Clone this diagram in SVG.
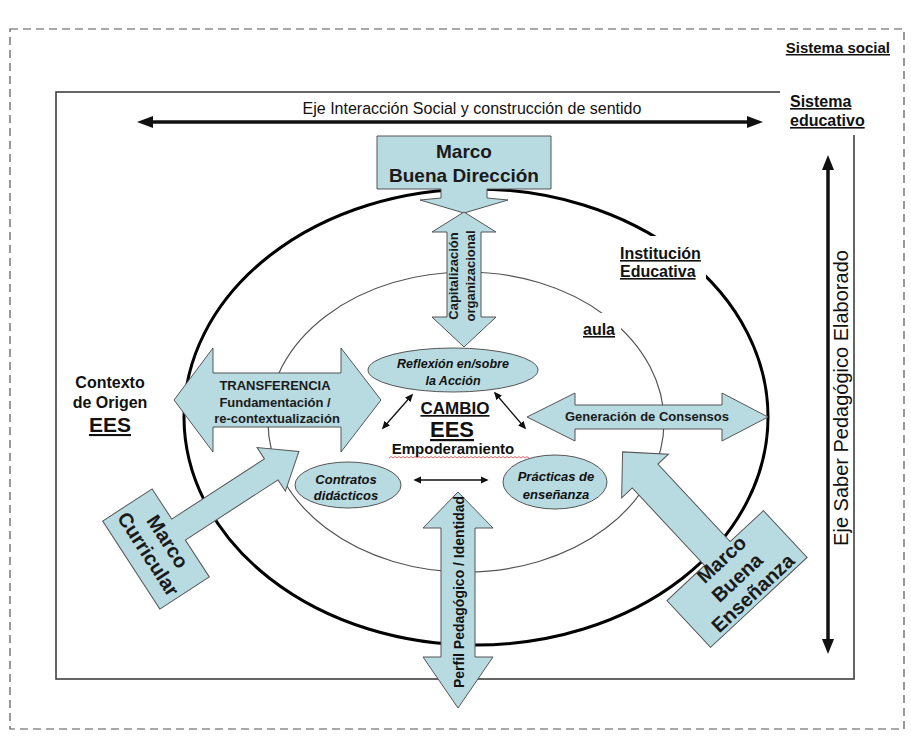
<svg xmlns="http://www.w3.org/2000/svg" width="911" height="747" viewBox="0 0 911 747">
<style>
text{font-family:"Liberation Sans",Arial,sans-serif;fill:#111}
.b{font-weight:bold}
.u{text-decoration:underline}
.c{text-anchor:middle}
.bi{font-weight:bold;font-style:italic}
.shape{fill:#b8dbe1;stroke:#555;stroke-width:1}
.st{font-size:13px;font-weight:bold;fill:#1a1a1a}
.mk{font-weight:bold;text-anchor:middle;fill:#1a1a1a}
</style>
<defs>
<marker id="ah" viewBox="0 0 10 10" refX="8" refY="5" markerWidth="8" markerHeight="8" markerUnits="userSpaceOnUse" orient="auto-start-reverse"><path d="M0,0.5 L10,5 L0,9.5 z" fill="#111"/></marker>
</defs>
<rect width="911" height="747" fill="#fff"/>

<g id="sistema-social">
<rect x="10" y="29" width="894" height="700" fill="none" stroke="#555" stroke-width="1.2" stroke-dasharray="8 5"/>
<text x="890" y="53" class="b u" font-size="15" text-anchor="end">Sistema social</text>
</g>

<g id="sistema-educativo">
<path d="M780,92 H56 V679 H854 V135" fill="none" stroke="#333" stroke-width="1.5"/>
<text x="790" y="107" class="b u" font-size="16">Sistema</text>
<text x="790" y="126" class="b u" font-size="16">educativo</text>
</g>

<g id="institucion-educativa">
<ellipse cx="476" cy="417" rx="292" ry="228" fill="none" stroke="#000" stroke-width="3"/>
<rect x="612" y="236" width="94" height="47" fill="#fff"/>
<text x="620" y="259" class="b u" font-size="16">Institución</text>
<text x="620" y="277" class="b u" font-size="16">Educativa</text>
</g>

<g id="aula">
<ellipse cx="466" cy="422" rx="198" ry="150" fill="none" stroke="#555" stroke-width="1.2"/>
<rect x="579" y="313" width="42" height="29" fill="#fff"/>
<text x="583" y="335" class="b u" font-size="16">aula</text>
</g>

<g id="eje-interaccion">
<text x="472" y="114" class="c" font-size="16">Eje Interacción Social y construcción de sentido</text>
</g>

<g id="eje-saber">
<text transform="translate(848,398) rotate(-90)" class="c" font-size="20">Eje Saber Pedagógico Elaborado</text>
</g>

<g id="contexto-origen">
<text x="110" y="388" class="b c" font-size="16">Contexto</text>
<text x="110" y="408" class="b c" font-size="16">de Origen</text>
<text x="110" y="432" class="b c u" font-size="21">EES</text>
</g>

<g id="marco-buena-direccion">
<polygon class="shape" points="377,136 551,136 551,189 487,189 487,198 508,200 464,213 420,200 441,198 441,189 377,189"/>
<text x="464" y="158" class="mk" font-size="19">Marco</text>
<text x="464" y="182" class="mk" font-size="19">Buena Dirección</text>
</g>

<g id="capitalizacion">
<polygon class="shape" points="464,212 496,232 481,232 481,317 496,317 464,347 432,317 447,317 447,232 432,232"/>
<text transform="translate(458,276) rotate(-90)" class="st c">Capitalización</text>
<text transform="translate(475,276) rotate(-90)" class="st c">organizacional</text>
</g>

<g id="transferencia">
<polygon class="shape" points="174,400 213,348 213,373 341,373 341,348 381,400 341,452 341,427 213,427 213,452"/>
<text x="275" y="390" class="st c">TRANSFERENCIA</text>
<text x="275" y="407" class="st c">Fundamentación /</text>
<text x="277" y="423" class="st c">re-contextualización</text>
</g>

<g id="generacion-consensos">
<polygon class="shape" points="527,417 575,393 575,405 722,405 722,393 768,417 722,441 722,429 575,429 575,441"/>
<text x="647" y="421" class="st c">Generación de Consensos</text>
</g>

<g id="perfil-pedagogico">
<polygon class="shape" points="458,492 493,528 475,528 475,657 493,657 458,708 423,657 441,657 441,528 423,528"/>
<text transform="translate(464,592) rotate(-90)" class="c b" font-size="14" fill="#1a1a1a">Perfil Pedagógico / Identidad</text>
</g>

<g id="marco-curricular" transform="translate(156,549) rotate(57)">
<polygon class="shape" points="-52.5,-29.5 -16.5,-29.5 -16.5,-140 -30,-140 -4,-173 22,-140 8.5,-140 8.5,-29.5 52.5,-29.5 52.5,29.5 -52.5,29.5"/>
<text x="0" y="-7" class="mk" font-size="20">Marco</text>
<text x="0" y="16" class="mk" font-size="20">Curricular</text>
</g>

<g id="marco-buena-ensenanza" transform="translate(737,579) rotate(-43)">
<polygon class="shape" points="-66,-32 -14.5,-32 -14.5,-138 -29,-138 3,-171 35,-138 20.5,-138 20.5,-32 66,-32 66,32 -66,32"/>
<text x="2" y="-18" class="mk" font-size="20">Marco</text>
<text x="1" y="6" class="mk" font-size="20">Buena</text>
<text x="2" y="28" class="mk" font-size="20">Enseñanza</text>
</g>

<g id="reflexion">
<ellipse class="shape" cx="453" cy="370" rx="85" ry="22"/>
<text x="453" y="368" class="bi c" font-size="12.5">Reflexión en/sobre</text>
<text x="453" y="385" class="bi c" font-size="12.5">la Acción</text>
</g>

<g id="contratos">
<ellipse class="shape" cx="348" cy="485" rx="53" ry="23"/>
<text x="346" y="484" class="bi c" font-size="13">Contratos</text>
<text x="346" y="500" class="bi c" font-size="13">didácticos</text>
</g>

<g id="practicas">
<ellipse class="shape" cx="555" cy="482" rx="52" ry="27"/>
<text x="556" y="481" class="bi c" font-size="13">Prácticas de</text>
<text x="556" y="499" class="bi c" font-size="13">enseñanza</text>
</g>

<g id="cambio">
<text x="455" y="414" class="c u b" font-size="17">CAMBIO</text>
<text x="452" y="437" class="c u b" font-size="22">EES</text>
<text x="453" y="454" class="c b" font-size="15">Empoderamiento</text>
<path d="M389,458 l2,-1.5 l2,1.5 l2,-1.5 l2,1.5 l2,-1.5 l2,1.5 l2,-1.5 l2,1.5 l2,-1.5 l2,1.5 l2,-1.5 l2,1.5 l2,-1.5 l2,1.5 l2,-1.5 l2,1.5 l2,-1.5 l2,1.5 l2,-1.5 l2,1.5 l2,-1.5 l2,1.5 l2,-1.5 l2,1.5 l2,-1.5 l2,1.5 l2,-1.5 l2,1.5 l2,-1.5 l2,1.5 l2,-1.5 l2,1.5 l2,-1.5 l2,1.5 l2,-1.5 l2,1.5 l2,-1.5 l2,1.5 l2,-1.5 l2,1.5 l2,-1.5 l2,1.5 l2,-1.5 l2,1.5 l2,-1.5 l2,1.5 l2,-1.5 l2,1.5 l2,-1.5 l2,1.5 l2,-1.5 l2,1.5 l2,-1.5 l2,1.5 l2,-1.5 l2,1.5 l2,-1.5 l2,1.5 l2,-1.5 l2,1.5 l2,-1.5 l2,1.5 l2,-1.5 l2,1.5 l2,-1.5 l2,1.5 l2,-1.5 l2,1.5 l2,-1.5 l2,1.5" fill="none" stroke="#e04040" stroke-width="0.8"/>
</g>

<g id="connectors" stroke="#111" fill="none">
<line x1="150" y1="122" x2="750" y2="122" stroke-width="3.5"/>
<polygon points="137,122 153,116 153,128" fill="#111" stroke="none"/>
<polygon points="763,122 747,116 747,128" fill="#111" stroke="none"/>
<line x1="828" y1="168" x2="828" y2="641" stroke-width="3.5"/>
<polygon points="828,155 822,170 834,170" fill="#111" stroke="none"/>
<polygon points="828,654 822,639 834,639" fill="#111" stroke="none"/>
<line x1="412" y1="395" x2="383" y2="428" stroke-width="1.3" marker-start="url(#ah)" marker-end="url(#ah)"/>
<line x1="495" y1="393" x2="525" y2="428" stroke-width="1.3" marker-start="url(#ah)" marker-end="url(#ah)"/>
<line x1="415" y1="480" x2="487" y2="480" stroke-width="1.3" marker-start="url(#ah)" marker-end="url(#ah)"/>
</g>
</svg>
